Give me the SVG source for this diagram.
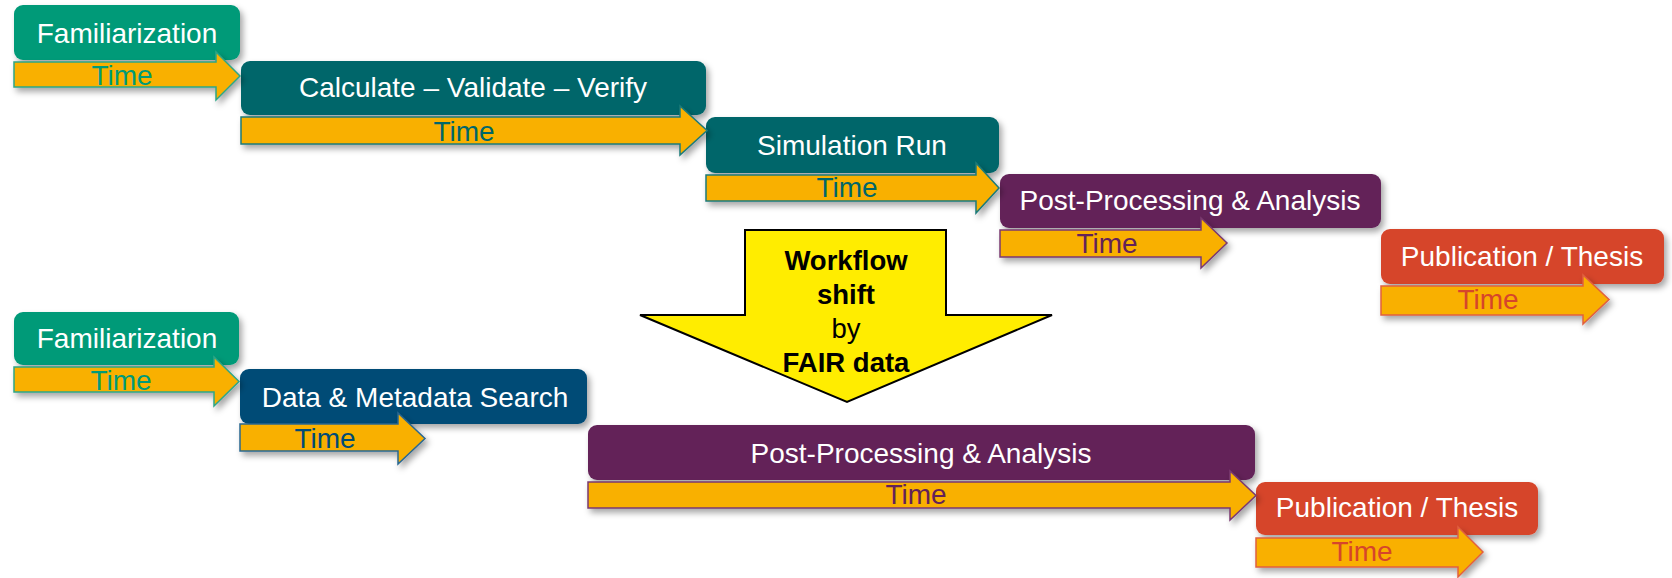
<svg xmlns="http://www.w3.org/2000/svg" width="1672" height="578" viewBox="0 0 1672 578">
<defs>
<filter id="sh" x="-10%" y="-30%" width="125%" height="170%">
<feDropShadow dx="3" dy="4" stdDeviation="3" flood-color="#000" flood-opacity="0.35"/>
</filter>
<style>
.box{filter:url(#sh)}
.lbl{font-family:"Liberation Sans",Arial,sans-serif;font-size:28px;fill:#fff;text-anchor:middle}
.tm{font-family:"Liberation Sans",Arial,sans-serif;font-size:28px;text-anchor:middle}
.arr{fill:#F9B000;stroke-width:1.5;filter:url(#sh)}
.g1{fill:#009A78}.g2{fill:#00666A}.g3{fill:#632259}.g4{fill:#D6452B}.g5{fill:#004B76}
.s1{stroke:#2FA585}.s2{stroke:#1E7A78}.s3{stroke:#7A3A70}.s4{stroke:#E0603F}.s5{stroke:#2A6790}
.shift{font-family:"Liberation Sans",Arial,sans-serif;font-size:27.5px;fill:#000;text-anchor:middle}
</style>
</defs>
<rect width="1672" height="578" fill="#fff"/>

<g id="fam1"><rect class="box g1" x="14" y="5" width="226" height="55" rx="9"/><text class="lbl" x="127" y="43">Familiarization</text></g>
<g id="calc"><rect class="box g2" x="241" y="61" width="465" height="54" rx="9"/><text class="lbl" x="473" y="97">Calculate – Validate – Verify</text></g>
<g id="sim"><rect class="box g2" x="706" y="117" width="293" height="56" rx="9"/><text class="lbl" x="852" y="155">Simulation Run</text></g>
<g id="post1"><rect class="box g3" x="1000" y="174" width="381" height="54" rx="9"/><text class="lbl" x="1190" y="210">Post-Processing &amp; Analysis</text></g>
<g id="pub1"><rect class="box g4" x="1381" y="229" width="283" height="55" rx="9"/><text class="lbl" x="1522" y="266">Publication / Thesis</text></g>

<g id="fam2"><rect class="box g1" x="14" y="312" width="225" height="53" rx="9"/><text class="lbl" x="127" y="348">Familiarization</text></g>
<g id="search"><rect class="box g5" x="240" y="369" width="347" height="55" rx="9"/><text class="lbl" x="415" y="407">Data &amp; Metadata Search</text></g>
<g id="post2"><rect class="box g3" x="588" y="425" width="667" height="55" rx="9"/><text class="lbl" x="921" y="463">Post-Processing &amp; Analysis</text></g>
<g id="pub2"><rect class="box g4" x="1256" y="482" width="282" height="53" rx="9"/><text class="lbl" x="1397" y="517">Publication / Thesis</text></g>

<g id="shift-arrow">
<polygon points="745,230 946,230 946,315 1052,315 847,402 640,315 745,315" fill="#FFED00" stroke="#000" stroke-width="2"/>
<text class="shift" x="846" y="270" font-weight="bold">Workflow</text>
<text class="shift" x="846" y="304" font-weight="bold">shift</text>
<text class="shift" x="846" y="338">by</text>
<text class="shift" x="846" y="372" font-weight="bold">FAIR data</text>
</g>

<g id="connectors">
<polygon class="arr s1" points="14,62 216,62 216,52 240,76 216,100 216,87 14,87"/>
<text class="tm g1" x="122" y="85">Time</text>
<polygon class="arr s2" points="241,117 680,117 680,106 707,130.5 680,155 680,144 241,144"/>
<text class="tm g2" x="464" y="141">Time</text>
<polygon class="arr s2" points="706,175 976,175 976,163 999,188 976,213 976,201 706,201"/>
<text class="tm g2" x="847" y="197">Time</text>
<polygon class="arr s3" points="1000,230 1201,230 1201,218 1227,243 1201,268 1201,257 1000,257"/>
<text class="tm g3" x="1107" y="253">Time</text>
<polygon class="arr s4" points="1381,286 1583,286 1583,275 1609,299.5 1583,324 1583,315 1381,315"/>
<text class="tm g4" x="1488" y="309">Time</text>

<polygon class="arr s1" points="14,367 214,367 214,357 239,381.5 214,406 214,392 14,392"/>
<text class="tm g1" x="121" y="390">Time</text>
<polygon class="arr s5" points="240,424 398,424 398,413 425,438.5 398,464 398,451 240,451"/>
<text class="tm g5" x="325" y="448">Time</text>
<polygon class="arr s3" points="588,482 1230,482 1230,471 1256,495.5 1230,520 1230,508 588,508"/>
<text class="tm g3" x="916" y="504">Time</text>
<polygon class="arr s4" points="1256,538 1458,538 1458,527 1483,552 1458,577 1458,567 1256,567"/>
<text class="tm g4" x="1362" y="561">Time</text>
</g>
</svg>
